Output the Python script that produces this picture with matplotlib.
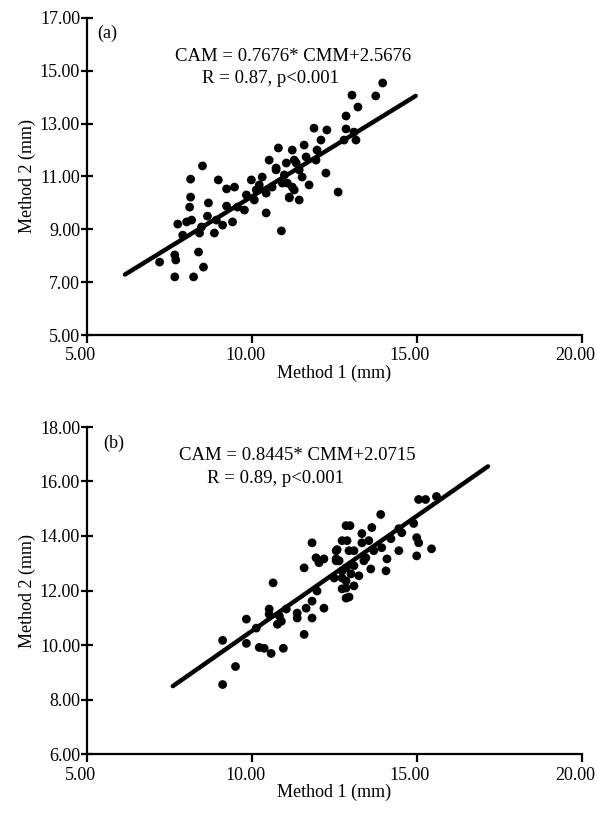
import matplotlib
matplotlib.use("Agg")
import matplotlib.pyplot as plt
import matplotlib.transforms as mtransforms
import numpy as np

plt.rcParams['font.family'] = ['Liberation Serif', 'DejaVu Serif']

# ---------------- Panel (a) data ----------------
a_x = [10.80, 11.22, 8.50, 8.14, 8.98, 9.23, 9.47, 9.98, 10.31, 10.73, 11.04, 8.14, 8.11,
       8.68, 9.23, 9.56, 9.83, 10.13, 10.43, 10.43, 10.89, 7.75, 8.02, 8.17, 8.65, 8.47,
       8.92, 9.11, 9.41, 7.90, 8.41, 8.86, 7.66, 7.69, 8.38, 8.53, 7.20, 7.66, 8.23, 11.07,
       11.28, 11.13, 13.96, 13.03, 13.75, 13.21, 12.85, 11.88, 12.27, 12.85, 13.09, 12.79,
       13.15, 12.09, 11.97, 11.64, 11.94, 10.73, 11.34, 11.52, 12.24, 10.61, 10.92, 11.22,
       12.61, 11.13, 10.98, 11.43, 11.28, 11.58, 10.52, 10.22, 11.43, 11.73, 9.77, 10.07]
a_y = [12.08, 12.00, 11.40, 10.90, 10.87, 10.53, 10.60, 10.87, 10.98, 11.25, 11.51, 10.22, 9.84,
       10.00, 9.88, 9.84, 10.30, 10.49, 10.37, 9.62, 8.94, 9.20, 9.28, 9.35, 9.50, 9.09,
       9.35, 9.16, 9.28, 8.78, 8.86, 8.86, 8.03, 7.84, 8.14, 7.57, 7.76, 7.20, 7.20, 10.75,
       10.49, 10.19, 14.54, 14.08, 14.05, 13.63, 13.29, 12.83, 12.76, 12.80, 12.68, 12.38,
       12.38, 12.38, 12.00, 11.74, 11.62, 11.32, 11.51, 10.98, 11.13, 10.60, 10.75, 10.60,
       10.41, 10.22, 11.06, 11.25, 11.62, 12.19, 11.62, 10.68, 10.11, 10.68, 9.73, 10.11]
a_slope, a_icpt = 0.7676, 2.5676
a_line_x = [6.15, 14.96]

# ---------------- Panel (b) data ----------------
b_x = [12.85, 11.82, 12.73, 12.55, 11.94, 12.18, 12.03, 11.58, 12.55, 12.85, 12.73, 12.85, 12.85,
       10.64, 11.97, 11.82, 12.18, 11.82, 10.52, 10.52, 11.04, 10.83, 11.37, 11.37, 11.64,
       9.83, 10.13, 10.77, 10.89, 11.58, 9.11, 9.83, 10.22, 10.37, 10.58, 10.95, 9.50, 9.11,
       15.59, 15.26, 15.05, 13.90, 12.97, 13.63, 13.33, 14.45, 14.54, 14.90, 12.88, 13.33,
       13.54, 14.21, 14.99, 15.05, 12.58, 13.09, 13.93, 14.45, 15.44, 14.99, 12.55, 13.45,
       14.09, 14.06, 13.60, 12.73, 13.00, 13.24, 12.49, 12.85, 13.09, 12.73, 12.94, 12.64,
       13.09, 13.39, 12.94, 13.69]
b_y = [14.38, 13.75, 13.83, 13.46, 13.20, 13.16, 13.02, 12.83, 13.09, 12.83, 12.46, 12.09, 11.72,
       12.28, 11.98, 11.61, 11.35, 10.99, 11.32, 11.13, 11.32, 11.06, 11.17, 10.99, 11.35,
       10.95, 10.62, 10.76, 10.87, 10.39, 10.17, 10.06, 9.91, 9.88, 9.69, 9.88, 9.21, 8.55,
       15.45, 15.34, 15.34, 14.79, 14.38, 14.31, 14.09, 14.27, 14.12, 14.46, 13.83, 13.75,
       13.83, 13.90, 13.94, 13.75, 13.50, 13.46, 13.57, 13.46, 13.53, 13.27, 13.16, 13.20,
       13.16, 12.72, 12.79, 12.72, 12.61, 12.54, 12.46, 12.35, 12.17, 12.06, 11.76, 13.09,
       12.91, 13.09, 13.46, 13.46]
b_slope, b_icpt = 0.8445, 2.0715
b_line_x = [7.60, 17.15]

x_ticks = [5, 10, 15, 20]
a_yticks = [5, 7, 9, 11, 13, 15, 17]
b_yticks = [6, 8, 10, 12, 14, 16, 18]

W, H = 597, 813
fig = plt.figure(figsize=(W / 100, H / 100), dpi=100)

def make_ax(top_px, bottom_px):
    left, right = 87 / W, 582 / W
    return fig.add_axes([left, 1 - bottom_px / H, right - left, (bottom_px - top_px) / H])

def style(ax, yticks):
    for s in ['top', 'right']:
        ax.spines[s].set_visible(False)
    for s in ['left', 'bottom']:
        ax.spines[s].set_linewidth(1.6)
    ax.set_xlim(5, 20)
    ax.set_ylim(yticks[0], yticks[-1])
    ax.set_xticks(x_ticks)
    ax.set_xticklabels([f"{v:.2f}" for v in x_ticks], fontsize=13)
    ax.set_yticks(yticks)
    ax.set_yticklabels([f"{v:.2f}" for v in yticks], fontsize=13)
    ax.tick_params(axis='y', direction='inout', length=8, width=1.6, pad=1)
    ax.tick_params(axis='x', direction='out', length=6, width=1.6, pad=3)
    off = mtransforms.ScaledTranslation(-7 / 100, 0, fig.dpi_scale_trans)
    for lab in ax.get_xticklabels():
        lab.set_transform(lab.get_transform() + off)
    ax.set_xlabel("Method 1 (mm)", fontsize=13, labelpad=0)
    ax.set_ylabel("Method 2 (mm)", fontsize=13, labelpad=3)

# Panel (a)
ax1 = make_ax(18, 335)
ax1.scatter(a_x, a_y, s=40, color='black', edgecolors='none', zorder=3)
lx = np.array(a_line_x)
ax1.plot(lx, a_slope * lx + a_icpt, color='black', lw=3.2, solid_capstyle='round', zorder=2)
style(ax1, a_yticks)
ax1.text(5.3, 16.43, "(a)", fontsize=13, va='center', ha='left')
ax1.text(7.66, 15.55, "CAM = 0.7676* CMM+2.5676", fontsize=13.5, va='center', ha='left')
ax1.text(8.50, 14.72, "R = 0.87, p<0.001", fontsize=13.5, va='center', ha='left')

# Panel (b)
ax2 = make_ax(427, 754)
ax2.scatter(b_x, b_y, s=40, color='black', edgecolors='none', zorder=3)
lx = np.array(b_line_x)
ax2.plot(lx, b_slope * lx + b_icpt, color='black', lw=3.2, solid_capstyle='round', zorder=2)
style(ax2, b_yticks)
ax2.text(5.48, 17.41, "(b)", fontsize=13, va='center', ha='left')
ax2.text(7.78, 16.97, "CAM = 0.8445* CMM+2.0715", fontsize=13.5, va='center', ha='left')
ax2.text(8.65, 16.12, "R = 0.89, p<0.001", fontsize=13.5, va='center', ha='left')

fig.savefig("out.png", dpi=100)
